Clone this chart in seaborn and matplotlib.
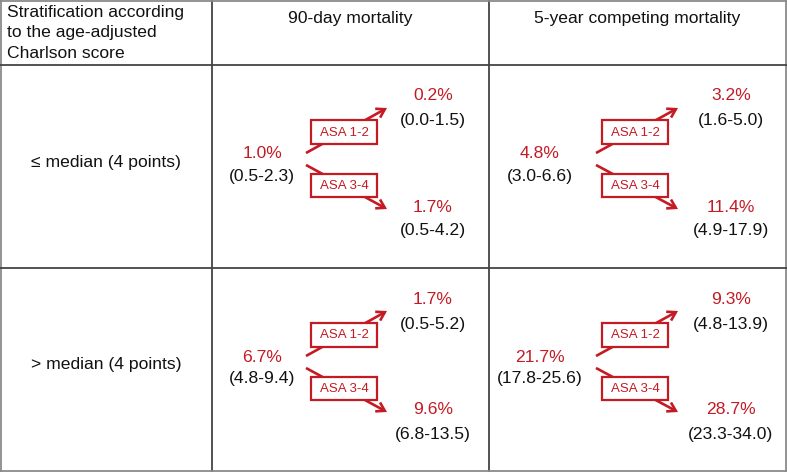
import matplotlib
matplotlib.use("Agg")
import matplotlib.pyplot as plt
import seaborn as sns
from matplotlib.patches import Rectangle, FancyArrowPatch

sns.set_theme(style="white")
plt.rcParams['font.family'] = ['Liberation Sans', 'DejaVu Sans']

# ---- data ----
row_labels = ["\u2264 median (4 points)", "> median (4 points)"]
col_labels = ["90-day mortality", "5-year competing mortality"]
header_label = "Stratification according\nto the age-adjusted\nCharlson score"
group_labels = ["ASA 1-2", "ASA 3-4"]

overall_pct = [[1.0, 4.8], [6.7, 21.7]]
overall_lo = [[0.5, 3.0], [4.8, 17.8]]
overall_hi = [[2.3, 6.6], [9.4, 25.6]]

asa12_pct = [[0.2, 3.2], [1.7, 9.3]]
asa12_lo = [[0.0, 1.6], [0.5, 4.8]]
asa12_hi = [[1.5, 5.0], [5.2, 13.9]]

asa34_pct = [[1.7, 11.4], [9.6, 28.7]]
asa34_lo = [[0.5, 4.9], [6.8, 23.3]]
asa34_hi = [[4.2, 17.9], [13.5, 34.0]]

# ---- layout ----
RED = "#C41A24"
BLACK = "#111111"
FS = 12.6
col_x = [0, 212, 489, 786]
row_y = [0, 65, 268, 471]
off = [
    dict(left=50, start=94, tip=175, box0=99, box1=165, right=221),
    dict(left=51, start=107, tip=189, box0=113, box1=179, right=242),
]

fig = plt.figure(figsize=(7.87, 4.72), dpi=100)
ax = fig.add_axes([0, 0, 1, 1])
ax.set_xlim(0, 787)
ax.set_ylim(472, 0)
ax.axis("off")

# grid lines
for i, x in enumerate(col_x):
    outer = i in (0, len(col_x) - 1)
    xx = x + (0.7 if i == 0 else 0)
    ax.plot([xx, xx], [0, 472], color="#8a8a8a" if outer else "#444444", lw=1.3,
            solid_capstyle="butt")
for i, y in enumerate(row_y):
    outer = i in (0, len(row_y) - 1)
    yy = y + (0.7 if i == 0 else 0)
    ax.plot([0, 787], [yy, yy], color="#8a8a8a" if outer else "#444444", lw=1.3,
            solid_capstyle="butt")

# headers
for k, line in enumerate(header_label.split("\n")):
    ax.text(7, 12 + 20.5 * k, line, ha="left", va="center", fontsize=FS, color=BLACK)
for j, lab in enumerate(col_labels):
    ax.text((col_x[j + 1] + col_x[j + 2]) / 2, 18, lab, ha="center", va="center",
            fontsize=FS, color=BLACK)
for i, lab in enumerate(row_labels):
    ax.text(106, row_y[i + 1] + 97, lab, ha="center", va="center", fontsize=FS,
            color=BLACK)

def fmt_ci(lo, hi):
    return f"({lo:.1f}-{hi:.1f})"

for i in range(2):
    top = row_y[i + 1]
    for j in range(2):
        L = col_x[j + 1]
        o = off[j]
        ax.text(L + o["left"], top + 89, f"{overall_pct[i][j]:.1f}%", ha="center",
                va="center", fontsize=FS, color=RED)
        ax.text(L + o["left"], top + 111, fmt_ci(overall_lo[i][j], overall_hi[i][j]),
                ha="center", va="center", fontsize=FS, color=BLACK)
        for (ys, yt) in [(top + 88, top + 43), (top + 100, top + 144)]:
            arr = FancyArrowPatch((L + o["start"], ys), (L + o["tip"], yt),
                                  arrowstyle="->,head_length=0.42,head_width=0.26",
                                  mutation_scale=14, color=RED, lw=1.9,
                                  shrinkA=0, shrinkB=0, zorder=2,
                                  capstyle="butt", joinstyle="miter")
            ax.add_patch(arr)
        for k, (b0, b1) in enumerate([(top + 55, top + 79), (top + 109, top + 132)]):
            ax.add_patch(Rectangle((L + o["box0"], b0), o["box1"] - o["box0"], b1 - b0,
                                   facecolor="white", edgecolor=RED, lw=1.6, zorder=3))
            ax.text(L + (o["box0"] + o["box1"]) / 2, (b0 + b1) / 2 + 0.5, group_labels[k],
                    ha="center", va="center", fontsize=9.5, color=RED, zorder=4)
        ax.text(L + o["right"], top + 31, f"{asa12_pct[i][j]:.1f}%", ha="center",
                va="center", fontsize=FS, color=RED)
        ax.text(L + o["right"], top + 56, fmt_ci(asa12_lo[i][j], asa12_hi[i][j]),
                ha="center", va="center", fontsize=FS, color=BLACK)
        ax.text(L + o["right"], top + 142, f"{asa34_pct[i][j]:.1f}%", ha="center",
                va="center", fontsize=FS, color=RED)
        ax.text(L + o["right"], top + 166, fmt_ci(asa34_lo[i][j], asa34_hi[i][j]),
                ha="center", va="center", fontsize=FS, color=BLACK)

fig.savefig("out.png", dpi=100, facecolor="white")
